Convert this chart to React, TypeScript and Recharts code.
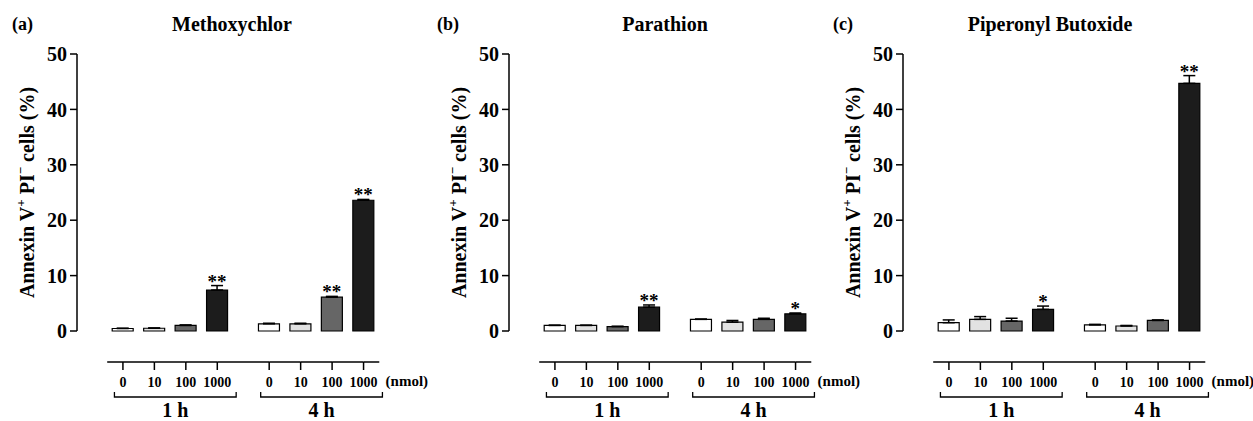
import React from "react";
import { BarChart, Bar, XAxis, YAxis, ErrorBar, Cell, LabelList } from "recharts";

// ---------- data ----------
const doses = ["0", "10", "100", "1000", "0", "10", "100", "1000"];
const groupLabels = ["1 h", "4 h"];
const yTicks = [0, 10, 20, 30, 40, 50];

const methoxychlor = [0.45, 0.5, 1.0, 7.4, 1.3, 1.3, 6.1, 23.6];
const methoxychlorErr = [0.05, 0.05, 0.1, 0.8, 0.1, 0.1, 0.15, 0.15];
const methoxychlorSig = ["", "", "", "**", "", "", "**", "**"];

const parathion = [1.0, 1.0, 0.8, 4.3, 2.1, 1.6, 2.1, 3.1];
const parathionErr = [0.05, 0.05, 0.05, 0.4, 0.05, 0.3, 0.2, 0.15];
const parathionSig = ["", "", "", "**", "", "", "", "*"];

const piperonyl = [1.5, 2.1, 1.8, 3.9, 1.1, 0.9, 1.9, 44.7];
const piperonylErr = [0.5, 0.5, 0.5, 0.6, 0.1, 0.1, 0.1, 1.4];
const piperonylSig = ["", "", "", "*", "", "", "", "**"];

// ---------- layout / style ----------
const FONT = "'Liberation Serif', 'Times New Roman', serif";
const fills = ["#ffffff", "#e2e2e2", "#666666", "#1c1c1c"];
const TOP = 54;
const PLOT_H = 277;
const Y_MAX = 50;
const PX_PER_Y = PLOT_H / Y_MAX;
const X_MIN = -1.46;
const X_MAX = 8.3;
const PLOT_W = 307;
const U = PLOT_W / (X_MAX - X_MIN);
const GROUP_SHIFT = 0.65;
const Y_AXIS_W = 77;
const X_AXIS_H = 90;
const CHART_H = TOP + PLOT_H + X_AXIS_H;

const xs = doses.map((_, i) => i + (i >= 4 ? GROUP_SHIFT : 0));

function buildRows(values: number[], errs: number[], sigs: string[]) {
  return values.map((v, i) => ({ x: xs[i], v, err: [0, errs[i]], sig: sigs[i] }));
}

function DoseTick(props: any) {
  const { x, y, payload } = props;
  const i = xs.indexOf(payload.value);
  if (i < 0) return null;
  const last = xs.length - 1;
  const ay = y + 31;
  const left = i === 0 ? x - U / 2 : x;
  const right = i === last ? x + U / 2 : x + (xs[i + 1] - xs[i]) * U;
  const groupStart = i % 4 === 0;
  return (
    <g>
      <line x1={left} x2={right} y1={ay} y2={ay} stroke="#000" strokeWidth={1.5} />
      <line x1={x} x2={x} y1={ay} y2={ay + 8} stroke="#000" strokeWidth={1.5} />
      <text x={x} y={y + 56} textAnchor="middle" fontSize={14} fontWeight="bold" fontFamily={FONT} fill="#000">
        {doses[i]}
      </text>
      {i === last && (
        <text x={x + 22} y={y + 55} textAnchor="start" fontSize={15} fontWeight="bold" fontFamily={FONT} fill="#000">
          (nmol)
        </text>
      )}
      {groupStart && (
        <g>
          <path
            d={`M${x - 0.27 * U},${y + 61} V${y + 66} H${x + 3.6 * U} V${y + 61}`}
            fill="none"
            stroke="#000"
            strokeWidth={1.3}
          />
          <text x={x + 1.665 * U} y={y + 86} textAnchor="middle" fontSize={20} fontWeight="bold" fontFamily={FONT} fill="#000">
            {groupLabels[i / 4]}
          </text>
        </g>
      )}
    </g>
  );
}

function makeSigLabel(errs: number[], sigs: string[]) {
  return (props: any) => {
    const { x, y, width, index } = props;
    const s = sigs[index];
    if (!s) return null;
    const top = y - errs[index] * PX_PER_Y;
    return (
      <text x={x + width / 2} y={top + 2} textAnchor="middle" fontSize={19} fontWeight="bold" fontFamily={FONT} fill="#000">
        {s}
      </text>
    );
  };
}

function YLabel() {
  const cx = 27;
  const cy = TOP + PLOT_H / 2;
  return (
    <text
      transform={`translate(${cx},${cy}) rotate(-90)`}
      textAnchor="middle"
      dominantBaseline="central"
      fontSize={20}
      fontWeight="bold"
      fontFamily={FONT}
      fill="#000"
    >
      Annexin V
      <tspan dy={-7} fontSize={13}>+</tspan>
      <tspan dy={7}> PI</tspan>
      <tspan dy={-7} fontSize={13}>−</tspan>
      <tspan dy={7}> cells (%)</tspan>
    </text>
  );
}

type PanelProps = {
  left: number;
  width: number;
  values: number[];
  errs: number[];
  sigs: string[];
};

function Panel({ left, width, values, errs, sigs }: PanelProps) {
  const rows = buildRows(values, errs, sigs);
  return (
    <div style={{ position: "absolute", left, top: 0 }}>
      <BarChart
        width={width}
        height={CHART_H}
        data={rows}
        margin={{ top: TOP, right: width - Y_AXIS_W - PLOT_W, bottom: 0, left: 0 }}
      >
        <XAxis
          type="number"
          dataKey="x"
          domain={[X_MIN, X_MAX]}
          ticks={xs}
          interval={0}
          allowDataOverflow
          axisLine={false}
          tickLine={false}
          tickSize={0}
          tickMargin={0}
          height={X_AXIS_H}
          tick={(p: any) => <DoseTick {...p} />}
        />
        <YAxis
          type="number"
          domain={[0, Y_MAX]}
          ticks={yTicks}
          interval={0}
          width={Y_AXIS_W}
          axisLine={{ stroke: "#000", strokeWidth: 1.5 }}
          tickLine={{ stroke: "#000", strokeWidth: 1.5 }}
          tickSize={7}
          tickMargin={3}
          tick={{ fill: "#000", fontSize: 20, fontWeight: "bold", fontFamily: FONT }}
          label={{ content: () => <YLabel /> }}
        />
        <Bar dataKey="v" barSize={21} stroke="#000" strokeWidth={1.2} isAnimationActive={false}>
          {rows.map((_, i) => (
            <Cell key={i} fill={fills[i % 4]} />
          ))}
          <ErrorBar dataKey="err" width={6} stroke="#000" strokeWidth={1.5} direction="y" isAnimationActive={false} />
          <LabelList dataKey="sig" content={makeSigLabel(errs, sigs)} />
        </Bar>
      </BarChart>
    </div>
  );
}

const textStyle: React.CSSProperties = {
  position: "absolute",
  fontFamily: FONT,
  fontWeight: "bold",
  color: "#000",
  whiteSpace: "nowrap",
  lineHeight: 1,
};

function Heading({ letter, letterX, title, titleCenter }: { letter: string; letterX: number; title: string; titleCenter: number }) {
  return (
    <>
      <div style={{ ...textStyle, left: letterX, top: 15, fontSize: 18 }}>{letter}</div>
      <div style={{ ...textStyle, left: titleCenter, top: 14, fontSize: 20, transform: "translateX(-50%)" }}>{title}</div>
    </>
  );
}

export default function App() {
  return (
    <div style={{ position: "absolute", left: 0, top: 0, width: 1253, height: 421, background: "#fff", overflow: "hidden" }}>
      <Panel left={0} width={440} values={methoxychlor} errs={methoxychlorErr} sigs={methoxychlorSig} />
      <Panel left={432} width={440} values={parathion} errs={parathionErr} sigs={parathionSig} />
      <Panel left={826} width={427} values={piperonyl} errs={piperonylErr} sigs={piperonylSig} />
      <Heading letter="(a)" letterX={12} title="Methoxychlor" titleCenter={232} />
      <Heading letter="(b)" letterX={437} title="Parathion" titleCenter={665} />
      <Heading letter="(c)" letterX={833} title="Piperonyl Butoxide" titleCenter={1050} />
    </div>
  );
}
